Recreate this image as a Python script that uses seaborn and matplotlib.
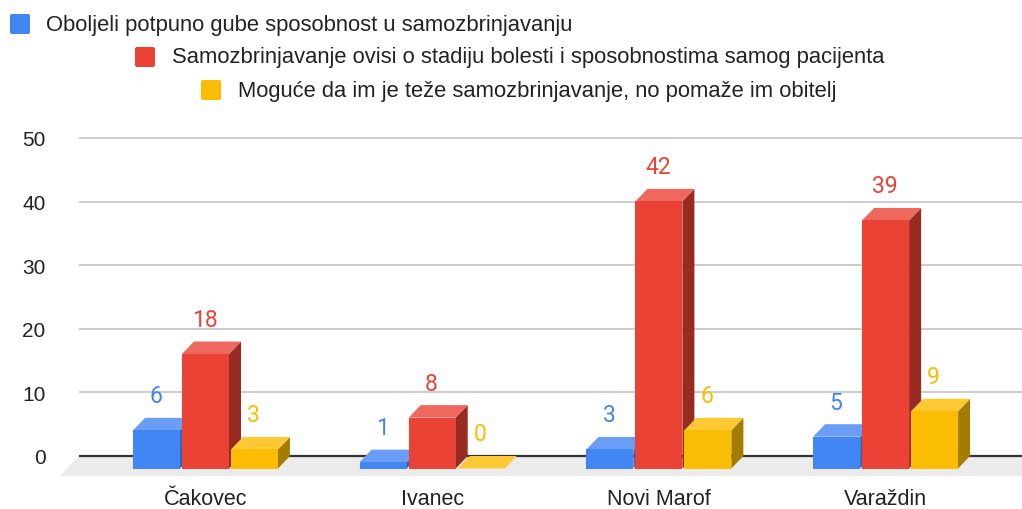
import matplotlib
matplotlib.use("Agg")
import matplotlib.pyplot as plt
import seaborn as sns
import pandas as pd
from matplotlib.patches import Polygon, FancyBboxPatch
from matplotlib.transforms import IdentityTransform

# ---- data -------------------------------------------------------------
categories = ["Čakovec", "Ivanec", "Novi Marof", "Varaždin"]
series_names = [
    "Oboljeli potpuno gube sposobnost u samozbrinjavanju",
    "Samozbrinjavanje ovisi o stadiju bolesti i sposobnostima samog pacijenta",
    "Moguće da im je teže samozbrinjavanje, no pomaže im obitelj",
]
blue_values = [6, 1, 3, 5]
red_values = [18, 8, 42, 39]
yellow_values = [3, 0, 6, 9]
y_ticks = [0, 10, 20, 30, 40, 50]

# ---- style ------------------------------------------------------------
front_colors = ["#4285F4", "#EA4335", "#FBBC04"]
top_colors = ["#6A9DF6", "#EE685D", "#FCC935"]
side_colors = ["#2E63B8", "#972B22", "#A67C00"]

W, H, DPI = 1022, 510, 100

sns.set_theme(style="white")
plt.rcParams["font.family"] = ["Liberation Sans", "DejaVu Sans"]

df = pd.DataFrame({
    "grad": categories * 3,
    "serija": [series_names[0]] * 4 + [series_names[1]] * 4 + [series_names[2]] * 4,
    "broj": blue_values + red_values + yellow_values,
})

fig = plt.figure(figsize=(W / DPI, H / DPI), dpi=DPI)
ax_left, ax_right, ax_bottom, ax_top = 79, 1022, 477, 130
ax = fig.add_axes([ax_left / W, 1 - ax_bottom / H,
                   (ax_right - ax_left) / W, (ax_bottom - ax_top) / H])

sns.barplot(data=df, x="grad", y="broj", hue="serija",
            order=categories, hue_order=series_names,
            palette=front_colors, saturation=1, width=0.648, gap=0.04,
            errorbar=None, legend=False, linewidth=0, ax=ax)

# back-plane scale: category spacing and units in pixels
cat_px = 226.7
unit_px = 6.36
x0_lim = -138.5 / cat_px
ax.set_xlim(x0_lim, x0_lim + (ax_right - ax_left) / cat_px)
y0_lim = -20 / unit_px
ax.set_ylim(y0_lim, y0_lim + (ax_bottom - ax_top) / unit_px)

# depth of the 3D effect (front plane shifted left/down)
dx = 12 / cat_px
dy = 12.5 / unit_px

for s in ax.spines.values():
    s.set_visible(False)
ax.set_xlabel("")
ax.set_ylabel("")

# grid lines on the back wall
for t in y_ticks:
    ax.axhline(t, color="#333333" if t == 0 else "#CCCCCC",
               lw=1.6 if t == 0 else 1.4, zorder=1)

# floor
xl, xr = ax.get_xlim()
floor = Polygon([(xl, 0), (xr, 0), (xr, -20 / unit_px),
                 (xl - 19 / cat_px, -20 / unit_px)],
                closed=True, facecolor="#EBEBEB", edgecolor="none",
                zorder=0.5, clip_on=False)
ax.add_patch(floor)

# turn seaborn's flat bars into boxes
for i, cont in enumerate(ax.containers):
    for bar in cont:
        x = bar.get_x()
        w = bar.get_width()
        v = bar.get_height()
        z = 3 + x * 0.01
        bar.set_xy((x - dx, -dy))
        bar.set_zorder(z + 0.002)
        top = Polygon([(x - dx, v - dy), (x + w - dx, v - dy), (x + w, v), (x, v)],
                      closed=True, facecolor=top_colors[i], edgecolor="none", zorder=z + 0.001)
        side = Polygon([(x + w - dx, -dy), (x + w, 0), (x + w, v), (x + w - dx, v - dy)],
                       closed=True, facecolor=side_colors[i], edgecolor="none", zorder=z)
        ax.add_patch(top)
        ax.add_patch(side)
        ax.annotate(f"{v:g}", xy=(x + w / 2 - dx, v), xytext=(-0.7, 22 * 0.72),
                    textcoords="offset points", ha="center", va="center",
                    color=front_colors[i], fontsize=16.5, family=["Roboto", "DejaVu Sans"],
                    zorder=10)

ax.set_yticks(y_ticks)
ax.set_xticks([k - dx for k in range(len(categories))], categories)
ax.tick_params(axis="y", length=0, pad=24, labelsize=15, labelcolor="#222222")
ax.tick_params(axis="x", length=0, pad=9, labelsize=15.5, labelcolor="#222222")
ax.grid(False)

# legend, stepped to the right
legend_items = [(10, 25, 46), (135, 58, 172), (201, 91, 238)]
for (sx, cy, tx), name, col in zip(legend_items, series_names, front_colors):
    sq = FancyBboxPatch((sx, H - cy - 10), 20, 20,
                        boxstyle="round,pad=0,rounding_size=2",
                        facecolor=col, edgecolor="none",
                        transform=IdentityTransform(), figure=fig)
    fig.patches.append(sq)
    fig.text(tx / W, 1 - cy / H, name, ha="left", va="center",
             fontsize=15.8, color="#222222")

fig.savefig("out.png", dpi=DPI)
